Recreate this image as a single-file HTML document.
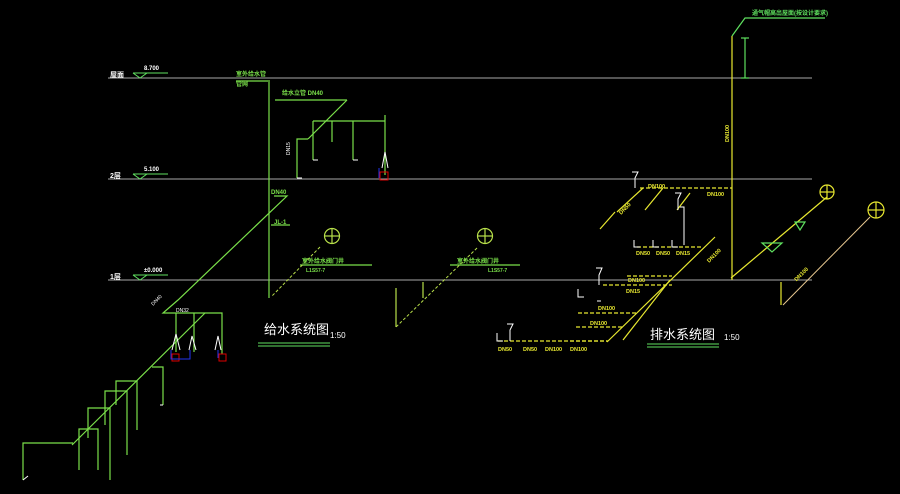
<!DOCTYPE html>
<html><head><meta charset="utf-8"><style>
html,body{margin:0;padding:0;background:#000;width:900px;height:494px;overflow:hidden}
svg{display:block}
text{font-family:"Liberation Sans","Noto Sans CJK SC",sans-serif}
</style></head><body>
<svg width="900" height="494" viewBox="0 0 900 494">
<g stroke="#a8a8a8" stroke-width="1">
<line x1="108" y1="78" x2="812" y2="78"/>
<line x1="108" y1="179" x2="812" y2="179"/>
<line x1="108" y1="280" x2="812" y2="280"/>
</g>
<!-- level marks -->
<g fill="#fff" font-size="7" font-weight="bold">
<text x="110" y="77">屋面</text><text x="110" y="178">2层</text><text x="110" y="279">1层</text>
<text x="144" y="70" font-size="6">8.700</text><text x="144" y="171" font-size="6">5.100</text><text x="144" y="272" font-size="6">±0.000</text>
</g>
<g stroke="#5fe05f" fill="none" stroke-width="1">
<path d="M133,73 L168,73 M133,73 L140,78 L147,73"/>
<path d="M133,174 L168,174 M133,174 L140,179 L147,174"/>
<path d="M133,275 L168,275 M133,275 L140,280 L147,275"/>
</g>
<!-- supply upper -->
<g stroke="#7ae04a" fill="none" stroke-width="1.2">
<line x1="269" y1="80" x2="269" y2="298"/>
<line x1="275" y1="100" x2="347" y2="100"/>
<line x1="347" y1="100" x2="308" y2="139"/>
<polyline points="308,139 297,139 297,178"/>
<line x1="313" y1="121" x2="385" y2="121"/>
<line x1="313" y1="121" x2="313" y2="160"/>
<line x1="332" y1="121" x2="332" y2="142"/>
<line x1="353" y1="121" x2="353" y2="160"/>
<line x1="385" y1="115" x2="385" y2="175"/>
<polyline points="274,196 287,196 178,300 163,313 222,313 222,354"/>
<line x1="176" y1="313" x2="176" y2="352"/>
<line x1="194" y1="313" x2="194" y2="352"/>
<line x1="271" y1="225" x2="290" y2="225"/>
<line x1="205" y1="313" x2="72" y2="445"/>
<polyline points="152,367 163,367 163,405"/>
<polyline points="116,405 116,381 137,381 137,430"/>
<polyline points="105,425 105,391 127,391 127,455"/>
<polyline points="88,438 88,408 110,408 110,480"/>
<polyline points="79,470 79,429 98,429 98,470"/>
<polyline points="23,480 23,443 73,443"/>
<line x1="300" y1="265" x2="372" y2="265"/>
<line x1="450" y1="265" x2="520" y2="265"/>
<line x1="236" y1="81" x2="268" y2="81"/>
</g>
<g stroke="#b8e04a" fill="none" stroke-width="1" stroke-dasharray="3,2">
<line x1="320" y1="247" x2="271" y2="297"/>
<line x1="477" y1="248" x2="396" y2="327"/>
</g>
<g stroke="#b8e04a" fill="none" stroke-width="1.2">
<circle cx="332" cy="236" r="7.5"/><line x1="325" y1="236" x2="339" y2="236"/><line x1="332" y1="229" x2="332" y2="243"/>
<circle cx="485" cy="236" r="7.5"/><line x1="478" y1="236" x2="492" y2="236"/><line x1="485" y1="229" x2="485" y2="243"/>
<line x1="396" y1="288" x2="396" y2="327"/><line x1="423" y1="282" x2="423" y2="298"/>
</g>
<g stroke="#d00" fill="none"><rect x="380" y="172" width="8" height="8"/><rect x="172" y="354" width="7" height="7"/><rect x="219" y="354" width="7" height="7"/></g>
<g stroke="#2233ee" fill="none"><line x1="379" y1="168" x2="379" y2="178"/><polyline points="171,350 171,359 190,359 190,350"/><line x1="218" y1="350" x2="218" y2="358"/></g>
<g stroke="#fff" fill="none" stroke-width="1">
<path d="M382,168 L385,152 L388,168 M172,350 L176,334 L180,350 M189,350 L192,336 L196,350 M215,350 L218,336 L221,350"/>
<path d="M313,160 L318,160 M353,160 L358,160 M297,178 L302,178 M163,405 L160,405 M23,480 L28,476"/>
</g>
<!-- supply labels -->
<g fill="#7ae04a" font-size="6" font-weight="bold">
<text x="236" y="76">室外给水管</text><text x="236" y="86">管网</text>
<text x="282" y="95">给水立管 DN40</text><text x="271" y="194">DN40</text><text x="274" y="224">JL-1</text>
<text x="302" y="263">室外给水阀门井</text><text x="306" y="272" font-size="5">L1S57-7</text>
<text x="457" y="263">室外给水阀门井</text><text x="488" y="272" font-size="5">L1S57-7</text>
</g>
<g fill="#fff" font-size="5">
<text x="176" y="312">DN32</text><text x="284" y="149" transform="rotate(-90 290 149)">DN15</text>
<text x="152" y="303" transform="rotate(-45 156 303)">DN40</text>
</g>
<text x="264" y="334" fill="#fff" font-size="13">给水系统图</text><text x="330" y="338" fill="#fff" font-size="8">1:50</text>
<g stroke="#5fe05f"><line x1="258" y1="343" x2="330" y2="343"/><line x1="258" y1="346" x2="330" y2="346"/></g>
<!-- drainage -->
<g stroke="#e8e830" fill="none" stroke-width="1.2">
<line x1="732" y1="36" x2="732" y2="280"/>
<line x1="643" y1="188" x2="617" y2="212"/><line x1="663" y1="188" x2="645" y2="210"/><line x1="690" y1="193" x2="677" y2="210"/>
<line x1="715" y1="237" x2="607" y2="342"/><line x1="670" y1="280" x2="623" y2="340"/>
<line x1="615" y1="212" x2="600" y2="229"/>
<line x1="731" y1="278" x2="827" y2="197"/>
<line x1="781" y1="282" x2="781" y2="305"/>
</g>
<g stroke="#e8e830" fill="none" stroke-width="1.2" stroke-dasharray="4,2">
<line x1="640" y1="188" x2="732" y2="188"/>
<line x1="637" y1="247" x2="703" y2="247"/>
<line x1="627" y1="276" x2="672" y2="276"/>
<line x1="603" y1="285" x2="672" y2="285"/>
<line x1="578" y1="313" x2="638" y2="313"/>
<line x1="576" y1="327" x2="623" y2="327"/>
<line x1="570" y1="341" x2="607" y2="341"/>
<line x1="498" y1="341" x2="608" y2="341"/>
</g>
<line x1="783" y1="305" x2="870" y2="217" stroke="#e8c890" stroke-width="1"/>
<g stroke="#e8e830" fill="none" stroke-width="1.2">
<circle cx="827" cy="192" r="7"/><line x1="820" y1="192" x2="834" y2="192"/><line x1="827" y1="185" x2="827" y2="199"/>
<circle cx="876" cy="210" r="8"/><line x1="868" y1="210" x2="884" y2="210"/><line x1="876" y1="202" x2="876" y2="218"/>
</g>
<g stroke="#5fe05f" fill="none" stroke-width="1.2">
<polyline points="732,36 745,18 825,18"/>
<line x1="745" y1="38" x2="745" y2="78"/><line x1="741" y1="38" x2="749" y2="38"/><line x1="741" y1="78" x2="749" y2="78"/>
<path d="M762,243 L782,243 L772,252 Z M795,222 L805,222 L800,230 Z"/>
</g>
<g stroke="#fff" fill="none" stroke-width="1">
<path d="M632,172 L638,172 L635,178 L635,188 M675,193 L681,193 L678,199 L678,210 M680,207 L684,207 L684,245 M596,268 L602,268 L599,275 L599,285 M507,324 L513,324 L510,330 L510,341 M597,301 L601,301"/>
<path d="M634,240 L634,247 L640,247 M653,240 L653,247 L659,247 M672,240 L672,247 L678,247 M497,333 L497,341 L503,341 M578,289 L578,297 L584,297"/>
</g>
<g fill="#e8e830" font-size="5.5" font-weight="bold">
<text x="648" y="188">DN100</text><text x="707" y="196">DN100</text>
<text x="636" y="255">DN50</text><text x="656" y="255">DN50</text><text x="676" y="255">DN15</text>
<text x="628" y="282">DN100</text><text x="626" y="293">DN15</text><text x="598" y="310">DN100</text><text x="590" y="325">DN100</text>
<text x="498" y="351">DN50</text><text x="523" y="351">DN50</text><text x="545" y="351">DN100</text><text x="570" y="351">DN100</text>
<text x="729" y="142" transform="rotate(-90 729 142)">DN100</text>
<text x="620" y="212" transform="rotate(-45 624 212)">DN50</text><text x="708" y="260" transform="rotate(-45 712 260)">DN100</text>
<text x="795" y="278" transform="rotate(-45 800 278)">DN100</text>
</g>
<text x="752" y="15" fill="#5fe05f" font-size="6" font-weight="bold">通气帽高出屋面(按设计要求)</text>
<text x="650" y="339" fill="#fff" font-size="13">排水系统图</text><text x="724" y="340" fill="#fff" font-size="8">1:50</text>
<g stroke="#5fe05f"><line x1="647" y1="344" x2="719" y2="344"/><line x1="647" y1="347" x2="719" y2="347"/></g>
</svg>
</body></html>
